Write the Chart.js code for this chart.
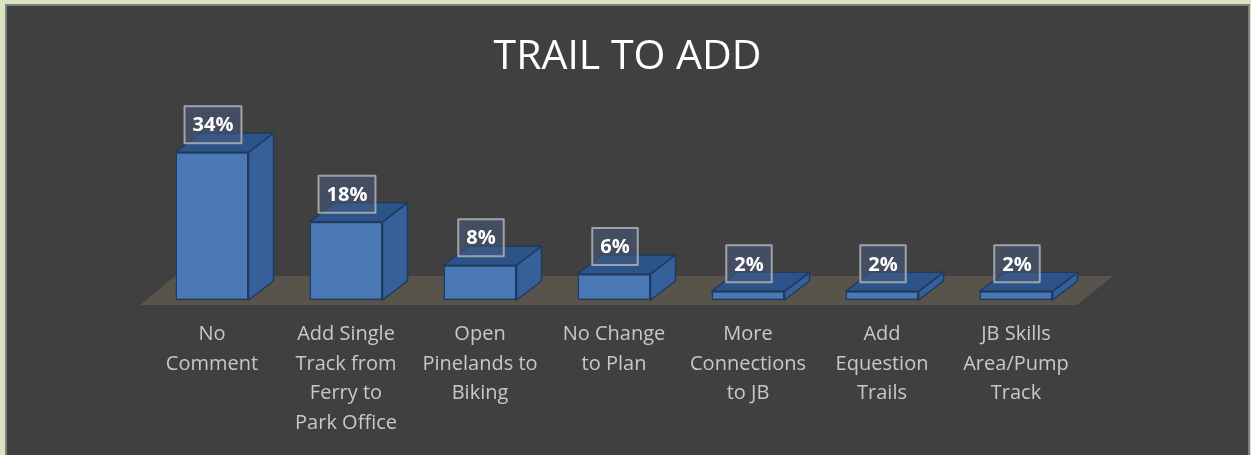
<!DOCTYPE html>
<html>
<head>
<meta charset="utf-8">
<script src="https://cdn.jsdelivr.net/npm/chart.js@4.4.1/dist/chart.umd.min.js"></script>
<style>
  html, body { margin: 0; padding: 0; background: #d7e4bd; }
  #wrap { width: 1251px; height: 455px; position: relative; }
</style>
</head>
<body>
<div id="wrap"><canvas id="myChart" width="1251" height="455"></canvas></div>
<script>
const categories = [
  ['No', 'Comment'],
  ['Add Single', 'Track from', 'Ferry to', 'Park Office'],
  ['Open', 'Pinelands to', 'Biking'],
  ['No Change', 'to Plan'],
  ['More', 'Connections', 'to JB'],
  ['Add', 'Equestion', 'Trails'],
  ['JB Skills', 'Area/Pump', 'Track']
]
const shares = [34, 18, 8, 6, 2, 2, 2]
const yTicks = [0, 40]

// depth of the fake 3d boxes
const DX = 25
const DY = 19

const panelPlugin = {
  id: 'panel',
  beforeDraw(chart) {
    const ctx = chart.ctx
    const a = chart.chartArea
    ctx.save()
    ctx.fillStyle = '#d7e4bd'
    ctx.fillRect(0, 0, chart.width, chart.height)
    ctx.fillStyle = '#404040'
    ctx.fillRect(5, 4, chart.width - 6, chart.height)
    ctx.strokeStyle = '#7f7f7f'
    ctx.lineWidth = 2
    ctx.strokeRect(6, 5, chart.width - 8, chart.height + 5)
    // floor
    ctx.fillStyle = '#58544b'
    ctx.beginPath()
    ctx.moveTo(a.left - 5, a.bottom + 5)
    ctx.lineTo(a.right - 6, a.bottom + 5)
    ctx.lineTo(a.right + 30, a.bottom - 24)
    ctx.lineTo(a.left + 30, a.bottom - 24)
    ctx.closePath()
    ctx.fill()
    ctx.restore()
  }
}

const boxPlugin = {
  id: 'boxes3d',
  afterDatasetsDraw(chart) {
    const ctx = chart.ctx
    const meta = chart.getDatasetMeta(0)
    ctx.save()
    ctx.lineJoin = 'round'
    meta.data.forEach((bar, i) => {
      const l = bar.x - bar.width / 2
      const r = bar.x + bar.width / 2
      const t = bar.y
      const b = bar.base
      ctx.strokeStyle = '#1f3a60'
      ctx.lineWidth = 1.5
      // side
      ctx.fillStyle = '#36609a'
      ctx.beginPath()
      ctx.moveTo(r, b)
      ctx.lineTo(r + DX, b - DY)
      ctx.lineTo(r + DX, t - DY)
      ctx.lineTo(r, t)
      ctx.closePath()
      ctx.fill()
      ctx.stroke()
      // top
      ctx.fillStyle = '#2d5488'
      ctx.beginPath()
      ctx.moveTo(l, t)
      ctx.lineTo(r, t)
      ctx.lineTo(r + DX, t - DY)
      ctx.lineTo(l + DX, t - DY)
      ctx.closePath()
      ctx.fill()
      ctx.stroke()
    })
    // value labels
    ctx.font = 'bold 20px "Open Sans"'
    ctx.textAlign = 'center'
    ctx.textBaseline = 'middle'
    meta.data.forEach((bar, i) => {
      const txt = shares[i] + '%'
      const w = ctx.measureText(txt).width + 16
      const h = 37
      const cx = bar.x + 1
      const cy = bar.y - 27.5
      ctx.fillStyle = 'rgba(72, 92, 128, 0.5)'
      ctx.fillRect(cx - w / 2, cy - h / 2, w, h)
      ctx.strokeStyle = '#9ea3aa'
      ctx.lineWidth = 2
      ctx.strokeRect(cx - w / 2, cy - h / 2, w, h)
      ctx.fillStyle = '#ffffff'
      ctx.fillText(txt, cx, cy + 1)
    })
    ctx.restore()
  }
}

const ctx = document.getElementById('myChart').getContext('2d')

const data = {
  labels: categories,
  datasets: [{
    label: 'Trail to add',
    data: shares,
    backgroundColor: '#4a79b6',
    borderColor: '#1f3a60',
    borderWidth: 1.5,
    borderSkipped: false,
    categoryPercentage: 1,
    barPercentage: 0.545
  }]
}

const config = {
  type: 'bar',
  data: data,
  options: {
    responsive: false,
    animation: false,
    layout: {
      padding: { left: 4, right: 0, top: 0, bottom: 5 }
    },
    plugins: {
      legend: { display: false },
      tooltip: { enabled: false },
      title: {
        display: true,
        text: 'TRAIL TO ADD',
        color: '#ffffff',
        font: { family: 'Open Sans', size: 41, weight: 'normal' },
        padding: { top: 33, bottom: 44 }
      }
    },
    scales: {
      x: {
        grid: { display: false },
        border: { display: false },
        ticks: {
          color: '#c8c8c8',
          font: { family: 'Open Sans', size: 20, lineHeight: 1.475 },
          padding: 12,
          maxRotation: 0,
          autoSkip: false
        }
      },
      y: {
        position: 'left',
        min: yTicks[0],
        max: yTicks[1],
        grid: { display: false },
        border: { display: false },
        ticks: { display: false },
        afterFit(scale) { scale.width = 141 }
      },
      yRight: {
        position: 'right',
        min: yTicks[0],
        max: yTicks[1],
        grid: { display: false },
        border: { display: false },
        ticks: { display: false },
        afterFit(scale) { scale.width = 168 }
      }
    }
  },
  plugins: [panelPlugin, boxPlugin]
}

const myChart = new Chart(ctx, config)
</script>
</body>
</html>
